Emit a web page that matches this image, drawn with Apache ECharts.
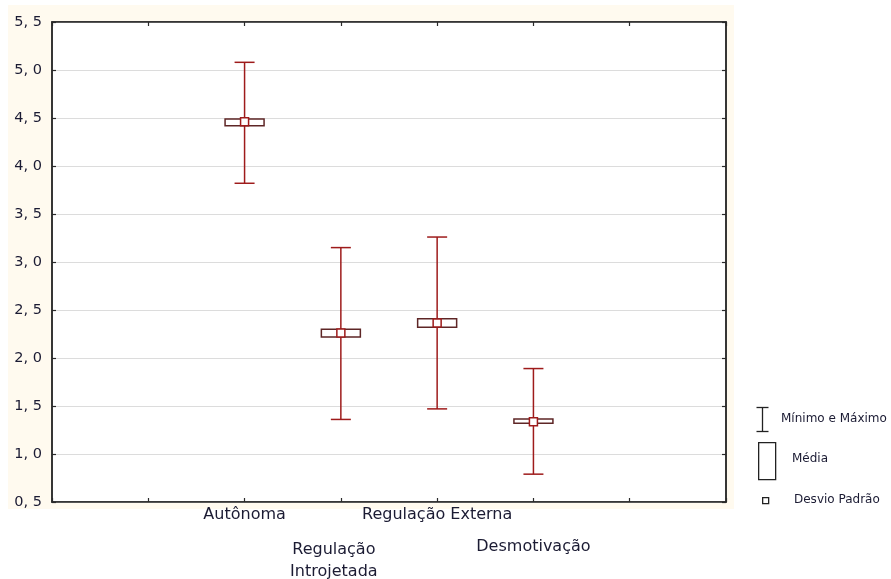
<!DOCTYPE html>
<html>
<head>
<meta charset="utf-8">
<script src="https://cdn.jsdelivr.net/npm/echarts@6/dist/echarts.min.js"></script>
<style>
html,body{margin:0;padding:0;background:#fff;}
#wrap{position:relative;width:891px;height:579px;}
#bg{position:absolute;left:8px;top:5px;width:726px;height:504px;background:#FFFAEF;}
#chart{position:absolute;left:0;top:0;width:891px;height:579px;}
</style>
</head>
<body>
<div id="wrap"><div id="bg"></div><div id="chart"></div></div>
<script>
// x-axis slots (ticks at every slot, labels only for the four groups)
const categories = ['', '', 'Autônoma', 'Regulação\nIntrojetada', 'Regulação Externa', 'Desmotivação', '', ''];
const groupIndex = [2, 3, 4, 5];
const minValues  = [3.82, 1.36, 1.47, 0.79];
const maxValues  = [5.08, 3.15, 3.26, 1.89];
const boxLow     = [4.42, 2.22, 2.32, 1.32];
const boxHigh    = [4.49, 2.30, 2.41, 1.365];
const means      = [4.46, 2.26, 2.365, 1.335];
const yTicks = { min: 0.5, max: 5.5, interval: 0.5 };

const seriesData = groupIndex.map((g, i) => [g, minValues[i], maxValues[i], boxLow[i], boxHigh[i], means[i]]);

const chart = echarts.init(document.getElementById('chart'), null, {renderer: 'canvas'});
const textColor = '#1b1b33';
const fontFam = '"DejaVu Sans", Verdana, sans-serif';

function renderItem(params, api) {
  const x = api.value(0);
  const pMin = api.coord([x, api.value(1)]);
  const pMax = api.coord([x, api.value(2)]);
  const pLo = api.coord([x, api.value(3)]);
  const pHi = api.coord([x, api.value(4)]);
  const pMean = api.coord([x, api.value(5)]);
  const cx = pMin[0];
  const capW = 10, boxW = 19.5, sq = 4;
  const red = '#9e1b1b';
  return {
    type: 'group',
    children: [
      {type: 'line', shape: {x1: cx, y1: pMax[1], x2: cx, y2: pMin[1]}, style: {stroke: red, lineWidth: 1.5}},
      {type: 'line', shape: {x1: cx - capW, y1: pMax[1], x2: cx + capW, y2: pMax[1]}, style: {stroke: red, lineWidth: 1.5}},
      {type: 'line', shape: {x1: cx - capW, y1: pMin[1], x2: cx + capW, y2: pMin[1]}, style: {stroke: red, lineWidth: 1.5}},
      {type: 'rect', shape: {x: cx - boxW, y: pHi[1], width: boxW * 2, height: pLo[1] - pHi[1]}, style: {fill: '#fff', stroke: '#5e2626', lineWidth: 1.5}},
      {type: 'rect', shape: {x: cx - sq, y: pMean[1] - sq, width: sq * 2, height: sq * 2}, style: {fill: '#fff', stroke: red, lineWidth: 1.5}}
    ]
  };
}

const axisLineStyle = {show: true, lineStyle: {color: '#2a2a2a', width: 1.5}};
const tickStyle = {show: true, inside: true, length: 4, lineStyle: {color: '#2a2a2a', width: 1.2}};

const option = {
  backgroundColor: 'transparent',
  animation: false,
  grid: {left: 52, right: 165, top: 22, bottom: 77, outerBoundsMode: 'none', containLabel: false,
         show: true, backgroundColor: '#fff', borderColor: '#2a2a2a', borderWidth: 1.5},
  xAxis: [
    {
      type: 'category', data: categories, boundaryGap: false, position: 'bottom',
      axisLine: axisLineStyle,
      axisTick: Object.assign({}, tickStyle, {interval: 0}),
      axisLabel: {
        interval: 0, color: textColor, fontSize: 16, fontFamily: fontFam, margin: 5, lineHeight: 16,
        formatter: function (v, idx) {
          if (idx === 3) {
            const parts = v.split('\n');
            return '\n\n{i|' + parts[0] + '}\n{i|' + parts[1] + '}';
          }
          if (idx === 5) return '\n\n' + v;
          return v;
        },
        rich: {
          i: {color: textColor, fontSize: 16, fontFamily: fontFam, lineHeight: 22, padding: [0, 14, 0, 0]}
        }
      },
      splitLine: {show: false}
    },
    {
      type: 'category', data: categories, boundaryGap: false, position: 'top',
      axisLine: axisLineStyle,
      axisTick: Object.assign({}, tickStyle, {interval: 0}),
      axisLabel: {show: false}, splitLine: {show: false}
    }
  ],
  yAxis: [
    {
      type: 'value', min: yTicks.min, max: yTicks.max, interval: yTicks.interval, position: 'left',
      axisLine: axisLineStyle, axisTick: tickStyle,
      axisLabel: {color: textColor, fontSize: 14.5, fontFamily: fontFam, margin: 10,
        formatter: v => v.toFixed(1).replace('.', ', ')},
      splitLine: {show: true, lineStyle: {color: '#dcdcdc', width: 1}}
    },
    {
      type: 'value', min: yTicks.min, max: yTicks.max, interval: yTicks.interval, position: 'right',
      axisLine: axisLineStyle, axisTick: tickStyle,
      axisLabel: {show: false}, splitLine: {show: false}
    }
  ],
  series: [{
    type: 'custom', renderItem: renderItem, data: seriesData, z: 5,
    encode: {x: 0, y: [1, 2, 3, 4, 5]}
  }],
  graphic: [
    {type: 'group', left: 754, top: 405, children: [
      {type: 'line', shape: {x1: 9, y1: 0, x2: 9, y2: 24}, style: {stroke: '#222', lineWidth: 1.3}},
      {type: 'line', shape: {x1: 3, y1: 0, x2: 15, y2: 0}, style: {stroke: '#222', lineWidth: 1.3}},
      {type: 'line', shape: {x1: 3, y1: 24, x2: 15, y2: 24}, style: {stroke: '#222', lineWidth: 1.3}}
    ]},
    {type: 'text', left: 781, top: 413, style: {text: 'Mínimo e Máximo', fill: textColor, font: '12px ' + fontFam}},
    {type: 'rect', left: 758, top: 442, shape: {width: 17, height: 37}, style: {fill: '#fff', stroke: '#222', lineWidth: 1.3}},
    {type: 'text', left: 792, top: 453, style: {text: 'Média', fill: textColor, font: '12px ' + fontFam}},
    {type: 'rect', left: 762, top: 497, shape: {width: 6, height: 6}, style: {fill: '#fff', stroke: '#222', lineWidth: 1.3}},
    {type: 'text', left: 794, top: 494, style: {text: 'Desvio Padrão', fill: textColor, font: '12px ' + fontFam}}
  ]
};
chart.setOption(option);
</script>
</body>
</html>
